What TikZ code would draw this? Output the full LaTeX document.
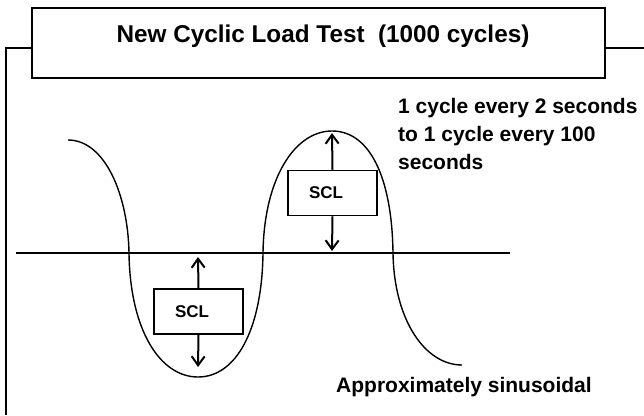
\documentclass[tikz,border=0pt]{standalone}
\usepackage{fontspec}
\setmainfont{Liberation Sans}
\usetikzlibrary{arrows.meta}

\tikzset{
  frameline/.style={line width=1.5pt},
  titlebox/.style={draw, line width=1.7pt, minimum width=573pt, minimum height=70pt, inner sep=0pt},
  sclbox/.style={draw, line width=1.5pt, font=\fontsize{17}{20}\selectfont\bfseries,
    inner xsep=21pt, inner ysep=0pt, text width=47pt, align=left, minimum height=45pt},
  amp/.style={line width=2pt, -{Straight Barb[length=9pt,width=13pt,line width=2pt]}},
  bigtext/.style={font=\fontsize{21}{28}\selectfont\bfseries, inner sep=0pt}
}

\begin{document}
\begin{tikzpicture}[x=1pt,y=-1pt]
\useasboundingbox (0,0) rectangle (644,415);

% title and frame
\node[titlebox] (title) at (318.5,43) {};
\node[font=\fontsize{24.3}{28}\selectfont\bfseries, anchor=base, inner sep=0pt] (titletext) at (323,42)
  {New Cyclic Load Test\ \ (1000 cycles)};
\coordinate (frametop) at (6,48);
\coordinate (framebot) at (6,415);
\coordinate (frameend) at (644,48);
\draw[frameline] (framebot) -- (frametop) -- (frametop -| title.west);
\draw[frameline] (frameend -| title.east) -- (frameend);

% zero line
\coordinate (zeroL) at (16,253);
\coordinate (zeroR) at (510,253);
\draw[line width=1.6pt] (zeroL) -- (zeroR);

% load curve
\draw[line width=1.4pt] (68,140) .. controls (105,140) and (128,195) .. (129,253)
  .. controls (130,330) and (160,377) .. (198,377)
  .. controls (236,377) and (262,330) .. (263,253)
  .. controls (264,178) and (295,131) .. (332,131)
  .. controls (370,131) and (392,178) .. (393,253)
  .. controls (394,320) and (425,365) .. (462,365);

% amplitude boxes
\node[sclbox] (sclLow) at (198.5,311.5) {SCL};
\node[sclbox] (sclHigh) at (332.5,193) {SCL};
\coordinate (lowTop) at (198,257);
\coordinate (lowBot) at (198,367);
\coordinate (highTop) at (332,133);
\coordinate (highBot) at (332,251);
\draw[amp] (sclLow.north) -- (lowTop);
\draw[amp] (sclLow.south) -- (lowBot);
\draw[amp] (sclHigh.north) -- (highTop);
\draw[amp] (sclHigh.south) -- (highBot);

% notes
\node[bigtext, anchor=north west, align=left] (rate) at (398,98)
  {1 cycle every 2 seconds\\to 1 cycle every 100\\seconds};
\node[bigtext, anchor=base west] (shape) at (336,392) {Approximately sinusoidal};
\end{tikzpicture}
\end{document}
